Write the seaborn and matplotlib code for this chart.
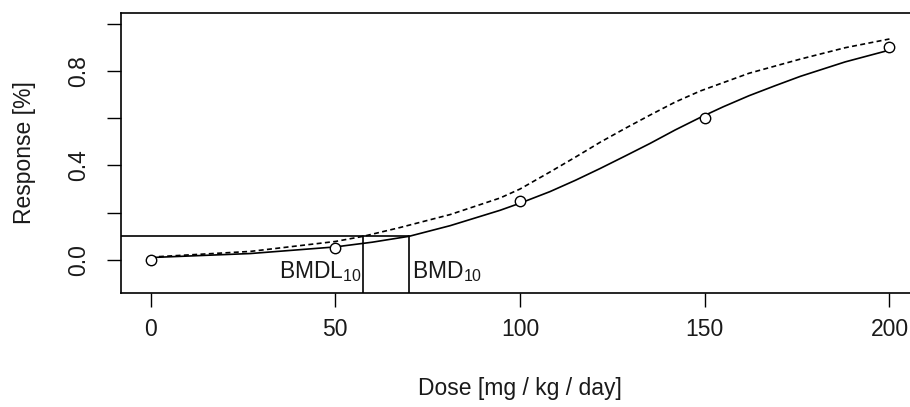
import matplotlib
matplotlib.use("Agg")
import matplotlib.pyplot as plt
import seaborn as sns

# observed data
obs_dose = [0, 50, 100, 150, 200]
obs_resp = [0.0, 0.05, 0.25, 0.60, 0.90]

# fitted curve (solid)
fit_dose = [0, 27, 50, 60, 70, 81.1, 94.6, 100, 108.1, 115, 121.7, 128.5, 135.2, 142, 148.8,
            155, 162, 169, 175.9, 188, 200]
fit_resp = [0.010, 0.027, 0.055, 0.075, 0.100, 0.145, 0.210, 0.240, 0.289, 0.337, 0.387, 0.440,
            0.493, 0.550, 0.603, 0.648, 0.695, 0.737, 0.777, 0.838, 0.888]

# upper bound curve (dashed)
up_dose = [0, 27, 50, 57.6, 67.5, 81.1, 94.6, 100, 108.1, 115, 121.7, 128.5, 135.2, 142, 148.8,
           162, 175.9, 188, 200]
up_resp = [0.012, 0.036, 0.078, 0.100, 0.137, 0.192, 0.262, 0.300, 0.372, 0.435, 0.498, 0.557,
           0.613, 0.668, 0.715, 0.790, 0.850, 0.898, 0.935]

bmr = 0.1
bmd = 70.0
bmdl = 57.6

x_ticks = [0, 50, 100, 150, 200]
y_ticks = [0.0, 0.2, 0.4, 0.6, 0.8, 1.0]
y_labels = ["0.0", "", "0.4", "", "0.8", ""]

sns.set_style("ticks")
plt.rcParams["font.family"] = ["Liberation Sans", "DejaVu Sans"]
plt.rcParams["mathtext.fontset"] = "custom"
plt.rcParams["mathtext.rm"] = "Liberation Sans"
tc = "#1a1a1a"
plt.rcParams["text.color"] = tc

W, H = 910, 407
fig = plt.figure(figsize=(W / 100, H / 100), dpi=100)
left, right, top, bottom = 121, 919, 13, 293
ax = fig.add_axes([left / W, (H - bottom) / H, (right - left) / W, (bottom - top) / H])

fs = 16.5
lw = 1.2

sns.lineplot(x=fit_dose, y=fit_resp, ax=ax, color="black", lw=lw, sort=False, estimator=None)
sns.lineplot(x=up_dose, y=up_resp, ax=ax, color="black", lw=lw, sort=False, estimator=None,
             linestyle=(0, (3, 2)))
ax.plot(obs_dose, obs_resp, linestyle="none", marker="o", markersize=7.5,
        markerfacecolor="white", markeredgecolor="black", markeredgewidth=1.0, zorder=3)

ylo, yhi = -0.14, 1.045
xlo, xhi = -8, 208
ax.set_xlim(xlo, xhi)
ax.set_ylim(ylo, yhi)

ax.plot([xlo, bmd], [bmr, bmr], color="black", lw=lw)
ax.plot([bmdl, bmdl], [ylo, bmr], color="black", lw=lw)
ax.plot([bmd, bmd], [ylo, bmr], color="black", lw=lw)

ax.text(bmdl - 0.5, -0.076, r"BMDL$\mathregular{_{10}}$", ha="right", va="baseline",
        fontsize=fs, color=tc)
ax.text(bmd + 0.7, -0.076, r"BMD$\mathregular{_{10}}$", ha="left", va="baseline",
        fontsize=fs, color=tc)

ax.set_xticks(x_ticks)
ax.set_xticklabels([str(v) for v in x_ticks])
ax.set_yticks(y_ticks)
ax.set_yticklabels(y_labels, rotation=90, va="center")
ax.tick_params(axis="both", direction="out", length=10, width=1.0, labelsize=fs,
               colors="black", labelcolor=tc)
ax.tick_params(axis="x", pad=8)
ax.tick_params(axis="y", pad=12)
for s in ax.spines.values():
    s.set_visible(True)
    s.set_linewidth(1.2)
    s.set_color("black")
ax.set_xlabel("")
ax.set_ylabel("")

fig.text(520 / W, (H - 388) / H, "Dose [mg / kg / day]", ha="center", va="center",
         fontsize=fs, color=tc)
fig.text(24 / W, (H - 153) / H, "Response [%]", ha="center", va="center", rotation=90,
         fontsize=fs, color=tc)

fig.savefig("out.png", dpi=100)
